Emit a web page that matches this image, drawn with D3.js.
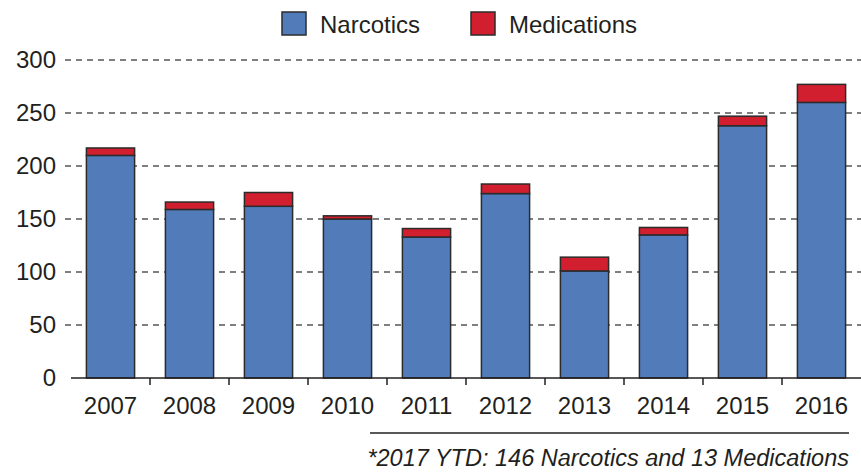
<!DOCTYPE html>
<html><head><meta charset="utf-8">
<script src="https://cdn.jsdelivr.net/npm/d3@7"></script>
<style>body{margin:0;background:#fff;} svg{display:block;font-family:"Liberation Sans",Arial,sans-serif;}</style>
</head><body>
<svg id="c" width="861" height="472"></svg>
<script>
const years = ["2007","2008","2009","2010","2011","2012","2013","2014","2015","2016"];
const narcotics = [210,159,162,150,133,174,101,135,238,260];
const medications = [7,7,13,3,8,9,13,7,9,17];
const yTicks = [0,50,100,150,200,250,300];
const seriesNames = ["Narcotics","Medications"];
const seriesColors = ["#527bba","#d21f2f"];
const footnote = "*2017 YTD: 146 Narcotics and 13 Medications";

const svg = d3.select("#c");
const x = d3.scaleBand().domain(years).range([71,861]).paddingInner(0.39).paddingOuter(0.195);
const y = d3.scaleLinear().domain([0,300]).range([378,60]);

// gridlines
svg.append("g").selectAll("line").data(yTicks.filter(d=>d>0)).join("line")
  .attr("x1",65).attr("x2",861).attr("y1",d=>y(d)).attr("y2",d=>y(d))
  .attr("stroke","#555").attr("stroke-width",1.5).attr("stroke-dasharray","6,5");

// y labels
svg.append("g").selectAll("text").data(yTicks).join("text")
  .attr("x",56).attr("y",d=>y(d)).attr("dy","0.35em").attr("text-anchor","end")
  .attr("font-size",24).attr("fill","#231f20").text(d=>d);

const stackData = years.map((yr,i)=>({year:yr, Narcotics:narcotics[i], Medications:medications[i]}));
const stack = d3.stack().keys(seriesNames)(stackData);
svg.append("g").selectAll("g").data(stack).join("g")
  .attr("fill",(d,i)=>seriesColors[i])
  .selectAll("rect").data(d=>d).join("rect")
  .attr("x",d=>x(d.data.year)).attr("width",x.bandwidth())
  .attr("y",d=>y(d[1])).attr("height",d=>y(d[0])-y(d[1]))
  .attr("stroke","#2b2b2b").attr("stroke-width",1.5);

// x axis
const xa = svg.append("g").attr("transform","translate(0,378)");
xa.append("line").attr("x1",71).attr("x2",861).attr("stroke","#231f20").attr("stroke-width",1.5);
const step = x.step();
xa.selectAll("line.t").data(years.slice(1)).join("line").attr("class","t")
  .attr("x1",d=>x(d)-(step-x.bandwidth())/2).attr("x2",d=>x(d)-(step-x.bandwidth())/2)
  .attr("y1",0).attr("y2",7).attr("stroke","#231f20").attr("stroke-width",1.5);
xa.selectAll("text").data(years).join("text")
  .attr("x",d=>x(d)+x.bandwidth()/2).attr("y",36).attr("text-anchor","middle")
  .attr("font-size",24).attr("fill","#231f20").text(d=>d);

// legend
const legX = [282,471], legTX=[320,509];
const lg = svg.append("g");
seriesNames.forEach((n,i)=>{
  lg.append("rect").attr("x",legX[i]).attr("y",12).attr("width",24).attr("height",23)
    .attr("fill",seriesColors[i]).attr("stroke","#2b2b2b").attr("stroke-width",1.5);
  lg.append("text").attr("x",legTX[i]).attr("y",33).attr("font-size",24).attr("fill","#231f20").text(n);
});

// footnote
svg.append("line").attr("x1",370).attr("x2",849).attr("y1",433).attr("y2",433).attr("stroke","#231f20").attr("stroke-width",1.5);
svg.append("text").attr("x",849).attr("y",466).attr("text-anchor","end").attr("font-size",23.5)
  .attr("font-style","italic").attr("fill","#231f20").text(footnote);
</script>
</body></html>
